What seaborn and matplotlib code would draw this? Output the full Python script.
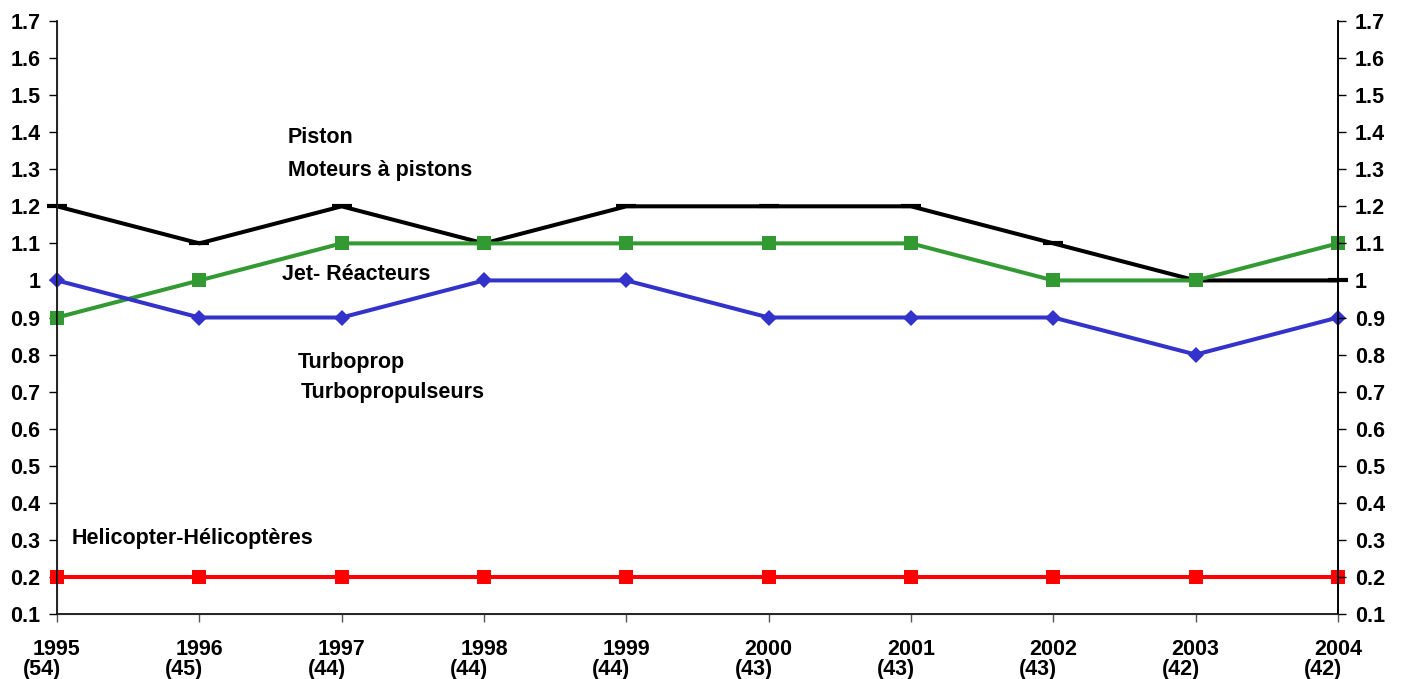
import numpy as np
import pandas as pd
import seaborn as sns
import matplotlib
matplotlib.use("Agg")
import matplotlib.pyplot as plt

years = [1995, 1996, 1997, 1998, 1999, 2000, 2001, 2002, 2003, 2004]
counts = [54, 45, 44, 44, 44, 43, 43, 43, 42, 42]

piston = [1.2, 1.1, 1.2, 1.1, 1.2, 1.2, 1.2, 1.1, 1.0, 1.0]
jet = [0.9, 1.0, 1.1, 1.1, 1.1, 1.1, 1.1, 1.0, 1.0, 1.1]
turboprop = [1.0, 0.9, 0.9, 1.0, 1.0, 0.9, 0.9, 0.9, 0.8, 0.9]
helicopter = [0.2, 0.2, 0.2, 0.2, 0.2, 0.2, 0.2, 0.2, 0.2, 0.2]

y_ticks = [0.1, 0.2, 0.3, 0.4, 0.5, 0.6, 0.7, 0.8, 0.9, 1.0,
           1.1, 1.2, 1.3, 1.4, 1.5, 1.6, 1.7]

sns.set_style("white")
plt.rcParams['font.family'] = ['Liberation Sans', 'DejaVu Sans']
plt.rcParams['font.weight'] = 'bold'
plt.rcParams['text.color'] = 'black'
plt.rcParams['xtick.color'] = 'black'
plt.rcParams['ytick.color'] = 'black'
plt.rcParams['axes.labelcolor'] = 'black'

fs = 15.5

fig = plt.figure(figsize=(14.07, 6.79), dpi=100)
ax = fig.add_axes([57 / 1407, 65 / 679, (1338 - 57) / 1407, (614 - 21) / 679])

series = [
    (piston, "black", "_", 14),
    (jet, "#339933", "s", 10),
    (turboprop, "#3333CC", "D", 8),
    (helicopter, "#FF0000", "s", 10),
]
for vals, color, marker, ms in series:
    sns.lineplot(x=years, y=vals, ax=ax, color=color, marker=marker,
                 markersize=ms, markeredgecolor=color,
                 markeredgewidth=3 if marker == "_" else 0,
                 linewidth=2.9, clip_on=False)

ax.set_xlim(1995, 2004)
ax.set_ylim(0.1, 1.7)
ax.set_yticks(y_ticks)
ax.set_yticklabels([f"{v:g}" for v in y_ticks])
ax.set_xticks(years)
ax.set_xticklabels([str(y) for y in years])

ax.spines["top"].set_visible(False)
for side in ["left", "right", "bottom"]:
    ax.spines[side].set_color("black")
    ax.spines[side].set_linewidth(1.2)

ax.tick_params(axis="y", direction="out", length=6, width=1, color="black",
               labelsize=fs, labelcolor="black", pad=6, left=True)
ax.tick_params(axis="x", direction="out", length=6, width=1, color="#555555",
               labelsize=fs, labelcolor="black", pad=12, bottom=True)

ax2 = ax.twinx()
ax2.set_ylim(0.1, 1.7)
ax2.set_yticks(y_ticks)
ax2.set_yticklabels([f"{v:g}" for v in y_ticks])
ax2.spines["top"].set_visible(False)
ax2.spines["right"].set_color("black")
ax2.spines["right"].set_linewidth(1.2)
ax2.tick_params(axis="y", direction="out", length=6, width=1, color="black",
                labelsize=fs, labelcolor="black", pad=6, right=True)

for y, n in zip(years, counts):
    ax.annotate(f"({n})", xy=(y, 0), xycoords=ax.get_xaxis_transform(),
                xytext=(-15, -55), textcoords="offset pixels",
                ha="center", va="center", fontsize=fs, fontweight="bold",
                color="black")

labels = [
    (1996.62, 1.386, "Piston"),
    (1996.62, 1.297, "Moteurs à pistons"),
    (1996.58, 1.016, "Jet- Réacteurs"),
    (1996.69, 0.779, "Turboprop"),
    (1996.71, 0.698, "Turbopropulseurs"),
    (1995.105, 0.305, "Helicopter-Hélicoptères"),
]
for x, y, s in labels:
    ax.text(x, y, s, ha="left", va="center", fontsize=fs, fontweight="bold",
            color="black")

fig.savefig("out.png", dpi=100)
